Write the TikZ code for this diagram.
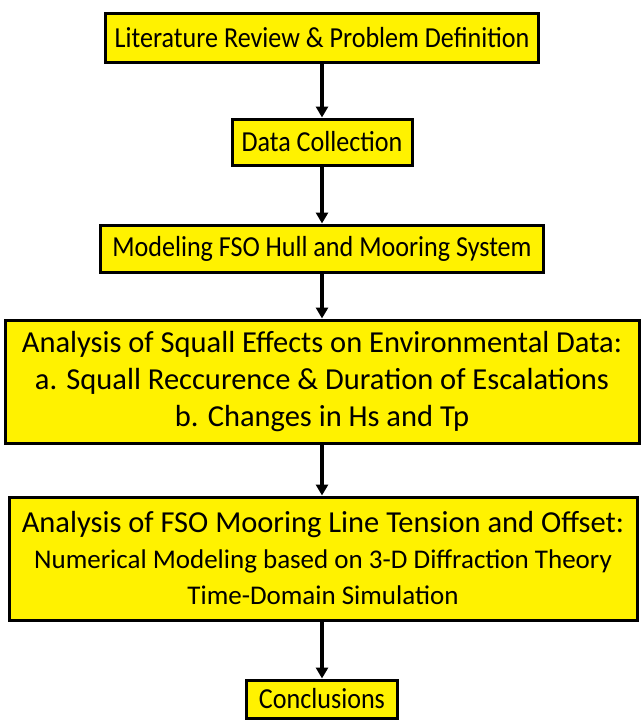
\documentclass[tikz,border=0pt]{standalone}
\usepackage{fontspec}
\setmainfont{Carlito}
\newfontfamily\condfont{Carlito}[FakeStretch=0.9]
\usetikzlibrary{arrows.meta}
\begin{document}
\begin{tikzpicture}[x=1pt,y=-1pt,
  box/.style={draw=black, line width=3pt, fill=yellow, align=center, inner sep=0pt},
  small/.style={font=\condfont\fontsize{29}{35}\selectfont},
  big/.style={font=\fontsize{30.5}{37}\selectfont},
  arr/.style={line width=3.5pt, -{Triangle[length=11pt,width=12pt]}}]
\useasboundingbox (0,0) rectangle (644,720);
\node[box, small, minimum width=433, minimum height=49] (b1) at (322,37.5) {Literature Review \& Problem Definition};
\node[box, small, minimum width=180, minimum height=46] (b2) at (322,142) {Data Collection};
\node[box, small, minimum width=443, minimum height=47] (b3) at (322,248.5) {Modeling FSO Hull and Mooring System};
\node[box, big, minimum width=634, minimum height=123] (b4) at (322,381.5) {Analysis of Squall Effects on Environmental Data:\\
a. Squall Reccurence \& Duration of Escalations\\
b. Changes in Hs and Tp};
\node[box, big, font=\fontsize{30.5}{36}\selectfont, minimum width=628, minimum height=123] (b5) at (323,558.5) {Analysis of FSO Mooring Line Tension and Offset:\\
{\fontsize{27}{33.5}\selectfont Numerical Modeling based on 3-D Diffraction Theory}\\
{\fontsize{27}{33.5}\selectfont Time-Domain Simulation}};
\node[box, small, minimum width=151, minimum height=38] (b6) at (322,699) {Conclusions};
\draw[arr] (b1.south) -- (b2.north);
\draw[arr] (b2.south) -- (b3.north);
\draw[arr] (b3.south) -- (b4.north);
\draw[arr] (b4.south) -- (b5.north -| b4.south);
\draw[arr] (b5.south -| b4.south) -- (b6.north);
\end{tikzpicture}
\end{document}
